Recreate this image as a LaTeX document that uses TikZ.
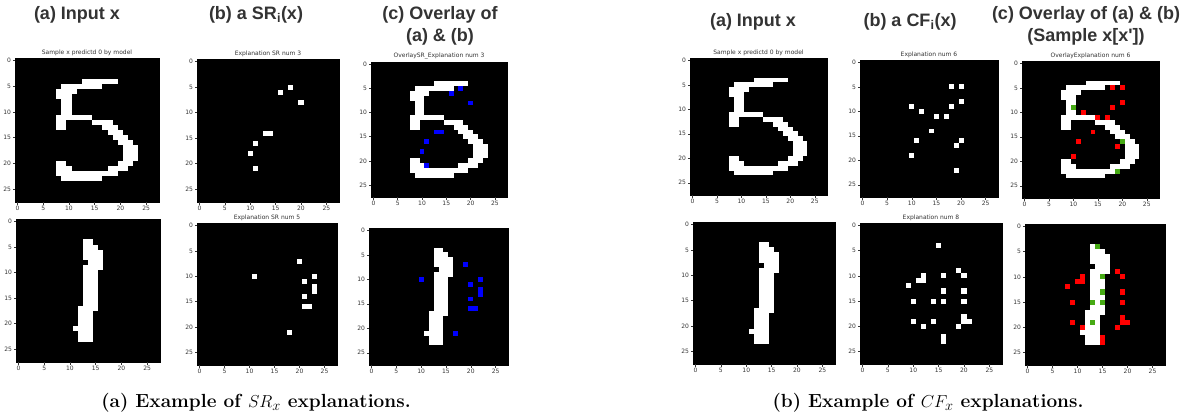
\documentclass[tikz,border=0pt]{standalone}
\usepackage{fontspec}
\newfontfamily\hfont{Liberation Sans}
\newfontfamily\mfont{DejaVu Sans}
\definecolor{headc}{HTML}{333333}
\definecolor{ovblue}{RGB}{0,0,255}
\definecolor{ovred}{RGB}{255,0,0}
\definecolor{ovgreen}{RGB}{70,170,20}
\tikzset{
  mpl/.style={font=\mfont\fontsize{6}{6}\selectfont, text=black!80, inner sep=0pt},
  head/.style={font=\hfont\bfseries\fontsize{18}{22}\selectfont, text=headc, inner sep=0pt, align=center},
  capt/.style={font=\bfseries\fontsize{19}{22}\selectfont, inner sep=0pt},
  tickmark/.style={line width=0.5pt, black!80},
}
\def\digitfive{4/13/19, 5/9/16, 6/8/11, 7/8/10, 8/9/10, 9/9/10, 10/9/10, 11/8/14, 12/8/9, 12/15/18, 13/8/9, 13/17/19, 14/18/20, 15/19/21, 16/20/22, 17/21/23, 18/21/23, 19/21/23, 20/8/9, 20/20/22, 21/8/10, 21/18/21, 22/8/19, 23/9/16}
\def\digitone{4/13/14, 5/13/15, 6/13/16, 7/13/16, 8/14/16, 9/13/16, 10/13/15, 11/13/15, 12/13/15, 13/13/15, 14/13/15, 15/13/15, 16/13/15, 17/12/15, 18/12/14, 19/12/14, 20/12/14, 21/11/14, 22/12/14, 23/12/14}
\def\srtop{16/6,18/5,20/8,13/14,14/14,11/16,10/18,11/21}
\def\srbot{19/7,10/10,22/10,20/11,22/12,22/13,20/14,20/16,21/16,17/21}
\def\srbotpanel{20/7,11/10,23/10,21/11,23/12,23/13,21/14,21/16,22/16,18/21}
\def\cftopred{18/5,20/5,20/8,18/9,12/10,15/11,17/11,14/14,11/16,19/17,10/19}
\def\cftopgreen{10/9,20/16,19/22}
\def\cfbotred{18/9,19/10,11/10,10/11,11/11,8/12,19/13,9/15,19/15,19/18,19/19,20/19,18/20,9/19,11/20,15/22,15/23}
\def\cfbotgreen{14/4,15/10,15/13,13/15,15/15,13/19}
\def\cfbotpanel{15/4,19/9,20/10,16/10,12/10,11/11,12/11,9/12,16/13,20/13,10/15,14/15,16/15,20/15,20/18,20/19,21/19,19/20,10/19,14/19,12/20,16/22,16/23}
\newcommand\pixrows[2]{\foreach \rr/\ca/\cb in #2 {\fill[#1] (\ca,\rr) rectangle (\cb+1,\rr+1);}}
\newcommand\pixset[2]{\foreach \cc/\rr in #2 {\fill[#1] (\cc,\rr) rectangle ++(1,1);}}
\newcommand\mplpanel[6]{%
  \pgfmathsetmacro\cw{#3/28}\pgfmathsetmacro\ch{#4/28}%
  \begin{scope}[shift={(#1,#2)}, x=\cw pt, y=-\ch pt]
    \fill[black] (0,0) rectangle (28,28);
    #6
    \draw[line width=0.5pt] (0,0) rectangle (28,28);
    \foreach \t in {0,5,...,25}{
      \draw[tickmark] (\t+0.5,28) -- ++(0pt,-2.5pt) node[mpl, below=1.2pt] {\t};
      \draw[tickmark] (0,\t+0.5) -- ++(-2.5pt,0pt) node[mpl, left=1.2pt] {\t};
    }
    \node[mpl, above=2.5pt] at (14,0) {#5};
  \end{scope}}
\begin{document}
\begin{tikzpicture}[x=1pt, y=-1pt]
\useasboundingbox (0,0) rectangle (1183,418);
% left figure
\mplpanel{15}{58}{144}{144}{Sample x predictd 0 by model}{\pixrows{white}{\digitfive}}
\mplpanel{197}{59}{142}{143}{Explanation SR num 3}{\pixset{white}{\srtop}}
\mplpanel{371}{62}{136}{135}{OverlaySR\_Explanation num 3}{\pixrows{white}{\digitfive}\pixset{ovblue}{\srtop}}
\mplpanel{16}{219}{144}{143}{}{\pixrows{white}{\digitone}}
\mplpanel{197}{223}{140}{142}{Explanation SR num 5}{\pixset{white}{\srbotpanel}}
\mplpanel{369}{228}{139}{137}{}{\pixrows{white}{\digitone}\pixset{ovblue}{\srbot}}
% right figure
\mplpanel{690}{58}{137}{137}{Sample x predictd 0 by model}{\pixrows{white}{\digitfive}}
\mplpanel{860}{60}{138}{137}{Explanation num 6}{\pixset{white}{\cftopred}\pixset{white}{\cftopgreen}}
\mplpanel{1022}{61}{137}{137}{OverlayExplanation num 6}{\pixrows{white}{\digitfive}\pixset{ovred}{\cftopred}\pixset{ovgreen}{\cftopgreen}}
\mplpanel{693}{222}{142}{142}{}{\pixrows{white}{\digitone}}
\mplpanel{860}{223}{142}{141}{Explanation num 8}{\pixset{white}{\cfbotpanel}}
\mplpanel{1025}{224}{140}{141}{}{\pixrows{white}{\digitone}\pixset{ovred}{\cfbotred}\pixset{ovgreen}{\cfbotgreen}}
% headings
\node[head] (ha1) at (77,15) {(a) Input x};
\node[head] (hb1) at (256,15) {(b) a SR\textsubscript{i}(x)};
\node[head] (hc1) at (440,26) {(c) Overlay of\\(a) \& (b)};
\node[head] (ha2) at (753,22) {(a) Input x};
\node[head] (hb2) at (910,22) {(b) a CF\textsubscript{i}(x)};
\node[head] (hc2) at (1086,26) {(c) Overlay of (a) \& (b)\\(Sample x[x'])};
% captions
\node[capt] (cap1) at (256,403) {(a) Example of $SR_x$ explanations.};
\node[capt] (cap2) at (928,403) {(b) Example of $CF_x$ explanations.};
\end{tikzpicture}
\end{document}
